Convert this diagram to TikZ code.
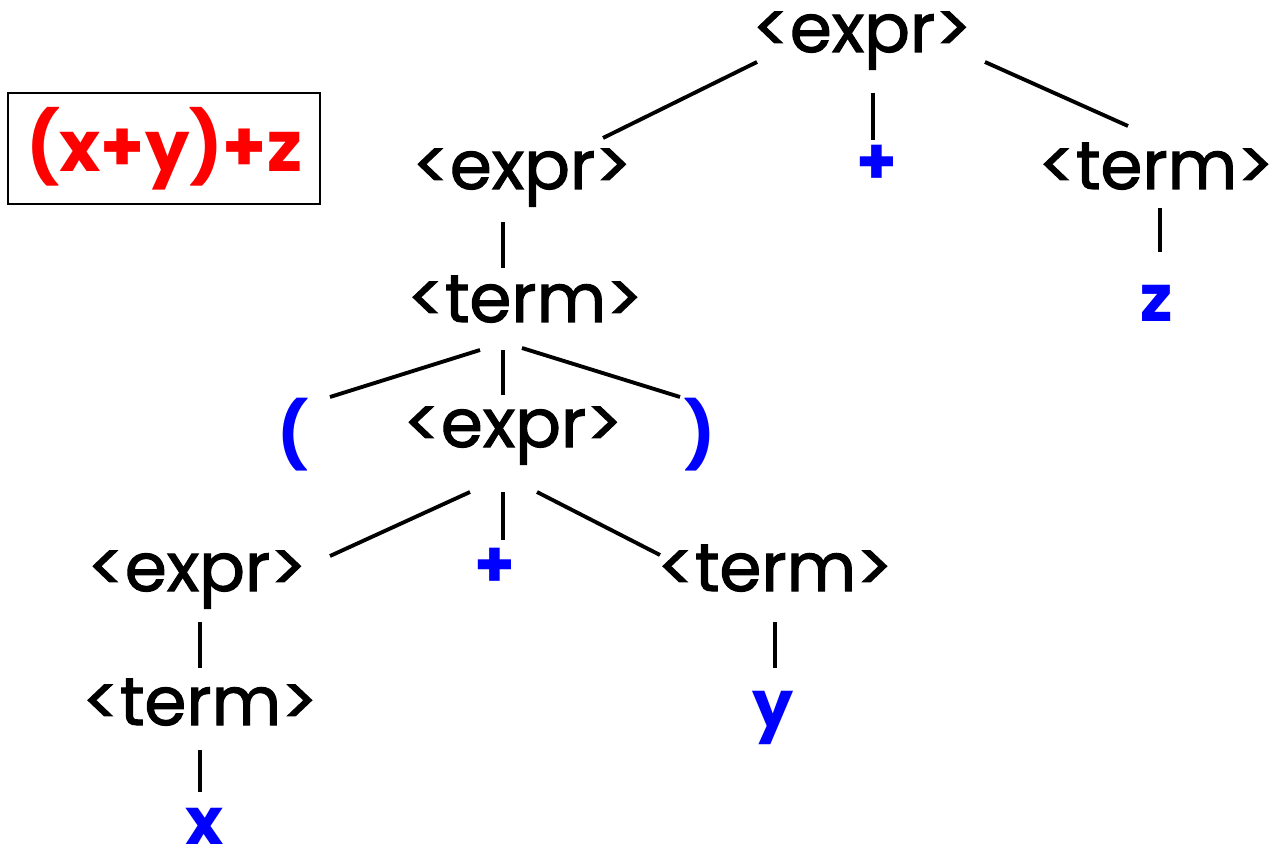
\documentclass[tikz,border=0pt]{standalone}
\usepackage{fontspec}
\setmainfont{Poppins}
\newfontfamily\ntfont[FakeBold=1.6]{Poppins}
\definecolor{termblue}{RGB}{0,0,255}
\definecolor{exred}{RGB}{255,0,0}
\newcommand\conn[4]{\draw[edge] ([shift={(#2)}]#1) -- ([shift={(#4)}]#3);}
\begin{document}
\begin{tikzpicture}[x=0.02cm,y=-0.02cm,
  nt/.style={inner sep=0pt,anchor=base,font=\ntfont\fontsize{38.5}{44}\selectfont},
  tok/.style={inner sep=0pt,anchor=base,text=termblue,font=\fontsize{37}{42}\selectfont\bfseries},
  edge/.style={line width=2.2pt,black}]
\useasboundingbox (0,0) rectangle (1274,861);

% the expression in its box
\node[draw,line width=1.1pt,minimum width=6.24cm,minimum height=2.22cm,inner sep=0pt,
      text=exred,font=\fontsize{40}{44}\selectfont\bfseries] (box) at (164,148.5) {(x+y)+z};

% parse tree
\node[nt] (e1) at (862,52) {<expr>};
\node[nt] (e2) at (522,189) {<expr>};
\node[tok,anchor=center] (p1) at (877,165) {+};
\node[nt] (t1) at (1156,189) {<term>};
\node[nt] (t3) at (525,322) {<term>};
\node[tok] (z) at (1157,322) {z};
\node[tok,anchor=center] (lp) at (293,435) {(};
\node[nt] (e4) at (513,447) {<expr>};
\node[tok,anchor=center] (rp) at (700,435) {)};
\node[nt] (e5) at (197,591) {<expr>};
\node[tok,anchor=center] (p2) at (495,568) {+};
\node[nt] (t5) at (775,591) {<term>};
\node[nt] (t6) at (200,725) {<term>};
\node[tok] (y) at (773,727) {y};
\node[tok] (x) at (205,844) {x};

% branches
\conn{e1.base}{-105,10}{e2.base}{81,-51}
\conn{e1.base}{11,41}{p1.center}{-4,-25}
\conn{e1.base}{123,10}{t1.base}{-28,-63}
\conn{e2.base}{-19,33}{t3.base}{-22,-54}
\conn{t1.base}{4,19}{z.base}{3,-70}
\conn{t3.base}{-45,28}{lp.center}{37,-38}
\conn{t3.base}{-22,28}{e4.base}{-10,-52}
\conn{t3.base}{-3,26}{rp.center}{-20,-38}
\conn{e4.base}{-43,45}{e5.base}{133,-35}
\conn{e4.base}{-10,45}{p2.center}{8,-28}
\conn{e4.base}{24,45}{t5.base}{-115,-36}
\conn{e5.base}{3,31}{t6.base}{0,-57}
\conn{t6.base}{0,25}{x.base}{-5,-52}
\conn{t5.base}{0,31}{y.base}{2,-59}
\end{tikzpicture}
\end{document}
